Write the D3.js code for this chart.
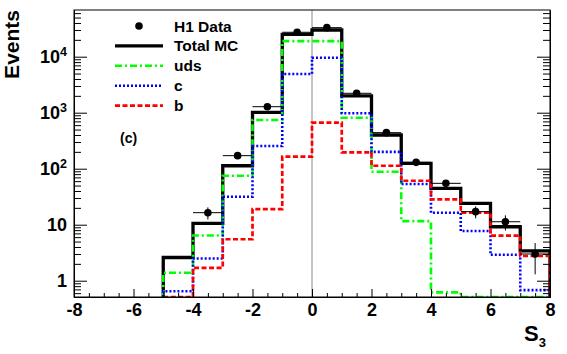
<!DOCTYPE html>
<html>
<head>
<meta charset="utf-8">
<script src="https://cdn.jsdelivr.net/npm/d3@7"></script>
<style>
  body { margin: 0; background: #fff; }
  svg { font-family: "Liberation Sans", Arial, sans-serif; font-weight: bold; }
</style>
</head>
<body>
<div id="chart"></div>
<script>
// bin edges -5 .. 8, width 1
const binEdges = [-5, -4, -3, -2, -1, 0, 1, 2, 3, 4, 5, 6, 7, 8];
const totalMC = [2.6, 10.6, 113, 1017, 25100, 30000, 2000, 400, 125, 44.7, 24.1, 9.2, 3.4];
const uds = [1.39, 6.4, 75, 741, 19000, 19000, 815, 88, 11.6, 0.62, 0, 0, 0];
const charm = [0.65, 2.5, 31.6, 254, 4900, 9600, 975, 200, 53.3, 16.4, 7.7, 2.9, 0.68];
const bottom = [0.5, 1.7, 5.5, 19, 164, 664, 196, 113, 61, 28.4, 16.4, 6.4, 2.76];

const dataX = [-3.5, -2.5, -1.5, -0.5, 0.5, 1.5, 2.5, 3.5, 4.5, 5.5, 6.5, 7.5];
const dataY = [16.4, 171, 1280, 27300, 33000, 2220, 440, 130, 54.8, 17.1, 11.3, 3.0];
const dataErr = [4.0, 13, 36, 165, 182, 47, 21, 11.4, 7.4, 4.1, 3.4, 1.7];

const xMajor = [-8, -6, -4, -2, 0, 2, 4, 6, 8];
const yMajor = [1, 10, 100, 1000, 10000];
const yLabels = [["1", ""], ["10", ""], ["10", "2"], ["10", "3"], ["10", "4"]];

const W = 567, H = 354;
const frame = { left: 74, right: 550, top: 10, bottom: 297 };

const svg = d3.select('#chart').append('svg')
  .attr('width', W).attr('height', H);

const x = d3.scaleLinear().domain([-8, 8]).range([frame.left, frame.right]);
const y = d3.scaleLog().domain([0.512, 68200]).range([frame.bottom, frame.top]).clamp(true);

// minor ticks
const xMinor = d3.range(-8, 8.01, 0.5).filter(v => v % 2 !== 0);
const yMinor = [];
for (let e = -1; e <= 4; e++) {
  for (let m = 2; m <= 9; m++) {
    const v = m * Math.pow(10, e);
    if (v >= 0.512 && v <= 68200) yMinor.push(v);
  }
}

const clipId = 'plotclip';
svg.append('clipPath').attr('id', clipId)
  .append('rect')
  .attr('x', frame.left).attr('y', frame.top)
  .attr('width', frame.right - frame.left)
  .attr('height', frame.bottom - frame.top);

const plot = svg.append('g').attr('clip-path', `url(#${clipId})`);

// vertical line at zero
plot.append('line')
  .attr('x1', x(0)).attr('x2', x(0))
  .attr('y1', frame.top).attr('y2', frame.bottom)
  .attr('stroke', '#8a8a8a').attr('stroke-width', 1);

function histPoints(vals) {
  const pts = [[binEdges[0], 1e-6]];
  vals.forEach((v, i) => {
    const vv = v > 0 ? v : 1e-6;
    pts.push([binEdges[i], vv]);
    pts.push([binEdges[i + 1], vv]);
  });
  pts.push([binEdges[binEdges.length - 1], 1e-6]);
  return pts;
}

const line = d3.line().x(d => x(d[0])).y(d => y(d[1]));

const series = [
  { vals: totalMC, color: '#000000', width: 3.3, dash: null },
  { vals: uds, color: '#00ff00', width: 2.6, dash: '7,3,2,3' },
  { vals: charm, color: '#0000ff', width: 2.6, dash: '2,2' },
  { vals: bottom, color: '#ff0000', width: 2.7, dash: '5,2.5' }
];

series.forEach(s => {
  plot.append('path')
    .attr('d', line(histPoints(s.vals)))
    .attr('fill', 'none')
    .attr('stroke', s.color)
    .attr('stroke-width', s.width)
    .attr('stroke-dasharray', s.dash)
    .attr('stroke-linejoin', 'miter');
});

// data points
const pts = plot.append('g');
dataX.forEach((cx, i) => {
  const v = dataY[i], e = dataErr[i];
  pts.append('line')
    .attr('x1', x(cx - 0.5)).attr('x2', x(cx + 0.5))
    .attr('y1', y(v)).attr('y2', y(v))
    .attr('stroke', '#000').attr('stroke-width', 1);
  pts.append('line')
    .attr('x1', x(cx)).attr('x2', x(cx))
    .attr('y1', y(v + e)).attr('y2', y(Math.max(v - e, 1e-6)))
    .attr('stroke', '#000').attr('stroke-width', 1);
  pts.append('circle')
    .attr('cx', x(cx)).attr('cy', y(v)).attr('r', 3.8)
    .attr('fill', '#000');
});

// axes
const xAxisMinor = d3.axisBottom(x).tickValues(xMinor).tickSizeInner(-4).tickSizeOuter(0).tickFormat('');
const xAxisMajor = d3.axisBottom(x).tickValues(xMajor).tickSizeInner(-8).tickSizeOuter(0)
  .tickPadding(6).tickFormat(d => String(d));

svg.append('g').attr('transform', `translate(0,${frame.bottom})`).call(xAxisMinor);
const gx = svg.append('g').attr('transform', `translate(0,${frame.bottom})`).call(xAxisMajor);
gx.selectAll('text').attr('font-size', 18).attr('font-family', '"Liberation Sans", Arial, sans-serif')
  .attr('font-weight', 'bold').attr('fill', '#000');

const yAxisMinorL = d3.axisLeft(y).tickValues(yMinor).tickSizeInner(-7).tickSizeOuter(0).tickFormat('');
const yAxisMajorL = d3.axisLeft(y).tickValues(yMajor).tickSizeInner(-13).tickSizeOuter(0).tickFormat('');
const yAxisMinorR = d3.axisRight(y).tickValues(yMinor).tickSizeInner(-7).tickSizeOuter(0).tickFormat('');
const yAxisMajorR = d3.axisRight(y).tickValues(yMajor).tickSizeInner(-13).tickSizeOuter(0).tickFormat('');

svg.append('g').attr('transform', `translate(${frame.left},0)`).call(yAxisMinorL);
svg.append('g').attr('transform', `translate(${frame.left},0)`).call(yAxisMajorL);
svg.append('g').attr('transform', `translate(${frame.right},0)`).call(yAxisMinorR);
svg.append('g').attr('transform', `translate(${frame.right},0)`).call(yAxisMajorR);

svg.selectAll('.domain').attr('stroke', '#000');
svg.selectAll('.tick line').attr('stroke', '#000');

// y tick labels with superscripts
const yl = svg.append('g');
yMajor.forEach((v, i) => {
  const [base, sup] = yLabels[i];
  const t = yl.append('text')
    .attr('x', 67).attr('y', y(v) + 6.5)
    .attr('text-anchor', 'end')
    .attr('font-size', 18);
  t.append('tspan').text(base);
  if (sup) {
    t.append('tspan').attr('font-size', 12.5).attr('dy', -7).text(sup);
  }
});

// frame
svg.append('rect')
  .attr('x', frame.left).attr('y', frame.top)
  .attr('width', frame.right - frame.left)
  .attr('height', frame.bottom - frame.top)
  .attr('fill', 'none').attr('stroke', '#000').attr('stroke-width', 1);

// axis titles
svg.append('text')
  .attr('transform', `translate(19,${frame.top}) rotate(-90)`)
  .attr('text-anchor', 'end')
  .attr('font-size', 21)
  .text('Events');

const xt = svg.append('text')
  .attr('x', 524).attr('y', 341)
  .attr('font-size', 22);
xt.append('tspan').text('S');
xt.append('tspan').attr('font-size', 13).attr('dy', 6).text('3');

// legend
const legendNames = ['H1 Data', 'Total MC', 'uds', 'c', 'b'];
const lg = svg.append('g');
legendNames.forEach((name, i) => {
  const cy = 26 + i * 19.9;
  if (i === 0) {
    lg.append('circle').attr('cx', 139).attr('cy', cy).attr('r', 3.8).attr('fill', '#000');
  } else {
    const s = series[i - 1];
    lg.append('line')
      .attr('x1', 115).attr('x2', 163)
      .attr('y1', cy).attr('y2', cy)
      .attr('stroke', s.color).attr('stroke-width', s.width)
      .attr('stroke-dasharray', s.dash);
  }
  lg.append('text')
    .attr('x', 174).attr('y', cy + 5.5)
    .attr('font-size', 15.5)
    .text(name);
});

svg.append('text')
  .attr('x', 120).attr('y', 143)
  .attr('font-size', 14)
  .text('(c)');
</script>
</body>
</html>
